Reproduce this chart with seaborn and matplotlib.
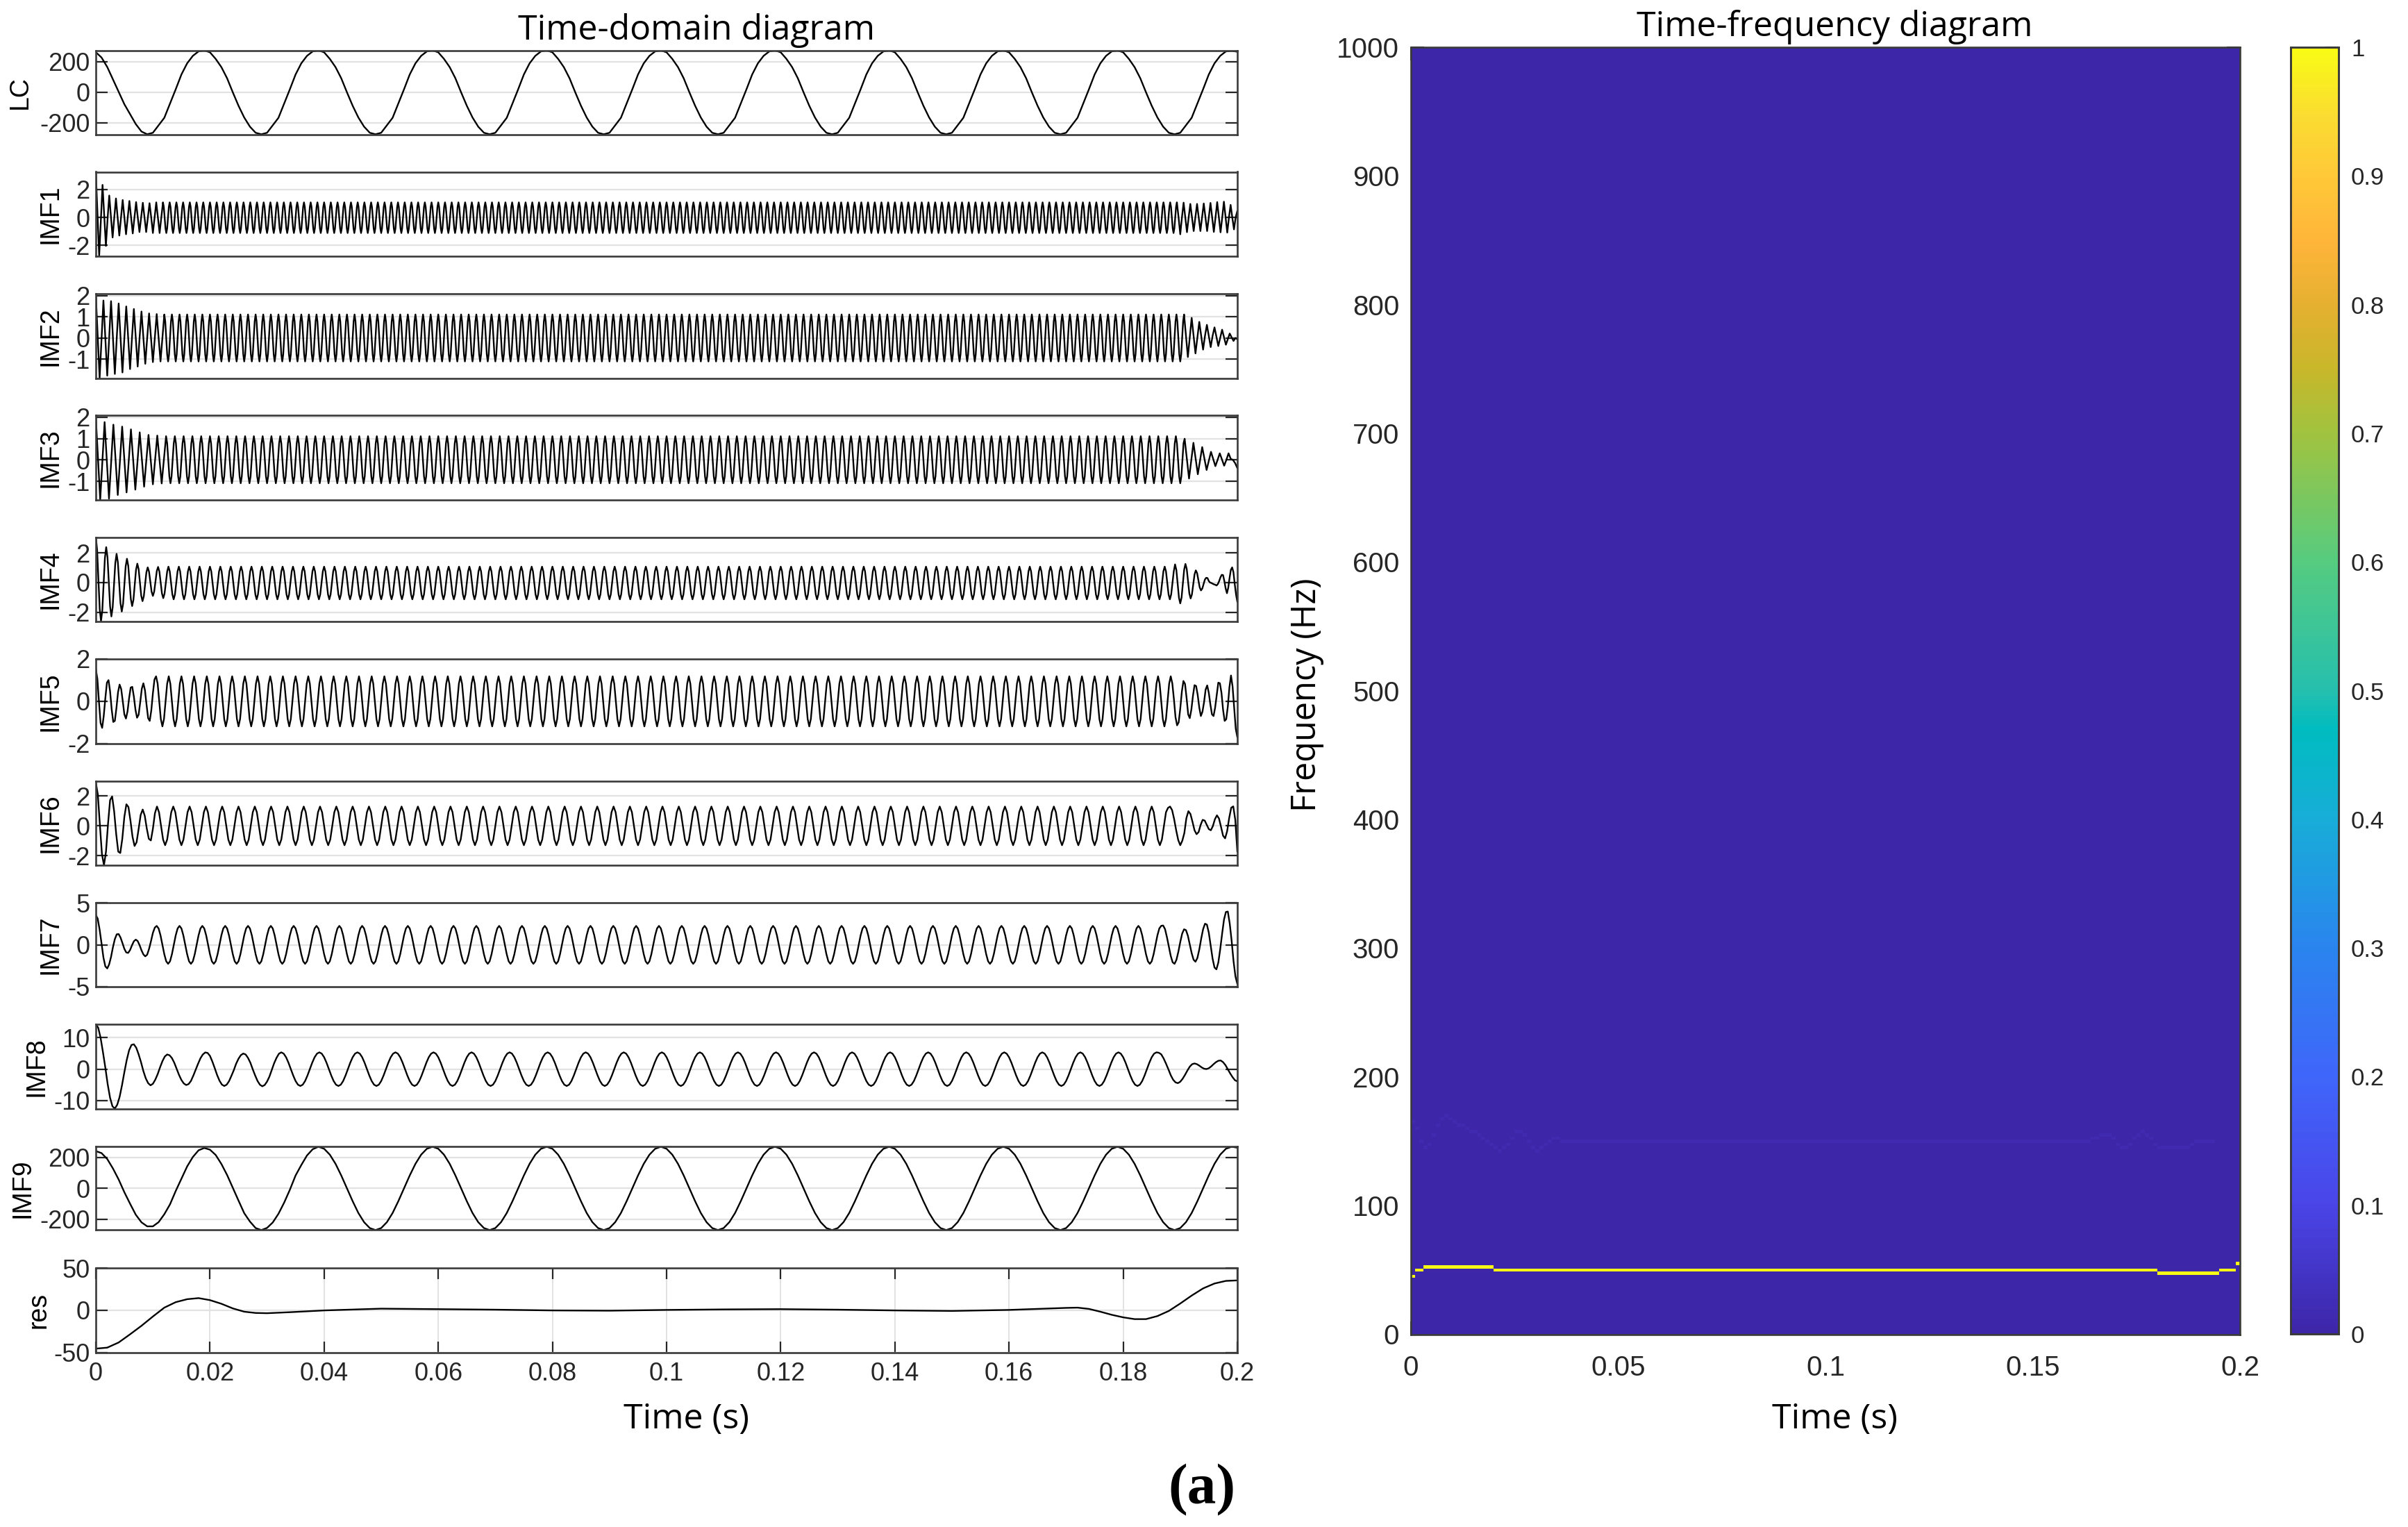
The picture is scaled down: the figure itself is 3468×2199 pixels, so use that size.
import matplotlib
matplotlib.use("Agg")
import matplotlib.pyplot as plt
from matplotlib.colors import LinearSegmentedColormap
import numpy as np
import seaborn as sns

W, H = 3468, 2199

# Values. Steady stretches repeat one cycle as read there,
# the start and end of each component are typed sample by sample.
lc_head = [263, 228, 166, 85, 3, -78, -143, -208, -257, -275, -265, -216, -167, -73, 20, 117, 190, 239, 268]
lc_cycle = [275, 262, 219, 165, 92, 0, -88, -165, -225, -265, -275, -265, -216, -167, -73, 20, 117, 190, 239, 268]
lc_tail = [272, 266]

imf1_head = [3.26, .2, -2.75, -.2, 2.33, .15, -2.03, -.1, 1.57, .05, -1.43, 0, 1.36, 0, -1.29, 0, 1.25, 0, -1.2, 0,
             1.18, 0, -1.14, 0, 1.1, 0, -1.04, 0, 1.05, 0, -1.04, 0, 1.02, 0, -1.11, 0, 1.08, 0, -1.11, 0]
imf1_cycle = [1.08, .76, 0, -.78, -1.11, -.78, 0, .76]
imf1_tail = [1.08, 0, -1.2, 0, 1.06, 0, -1.05, 0, .97, 0, -.97, 0, .97, 0, -.97, 0, 1.0, 0, -.97, 0,
             1.04, 0, -1.03, 0, 1.1, 0, -1.06, 0, 1.13, 0, -1.08, 0, .9, 0, -.85, 0, .47]

imf2_head = [2.05, .08, -1.9, -.07, 1.77, 0, -1.78, 0, 1.74, 0, -1.7, 0, 1.63, 0, -1.63, 0, 1.49, 0, -1.47, 0,
             1.37, 0, -1.35, 0, 1.25, 0, -1.22, 0, 1.16, 0, -1.14, 0, 1.13, 0, -1.11, 0]
imf2_cycle = [1.11, .78, 0, -.78, -1.11, -.78, 0, .78]
imf2_tail = [1.11, .1, -.9, .03, .95, .11, -.73, .02, .76, .1, -.55, .1, .62, .1, -.43, .1,
             .5, .06, -.38, 0, .39, .03, -.32, -.05, .21, .03, -.14, 0, -.06]

imf3_head = [2.0, .07, -1.86, -.04, 1.77, -.02, -1.81, -.08, 1.65, 0, -1.64, -.04, 1.56, .02, -1.52, -.04,
             1.43, .02, -1.39, -.05, 1.29, .02, -1.25, -.04, 1.17, .02, -1.14, 0, 1.14, .02, -1.1, 0]
imf3_cycle = [1.11, .78, 0, -.77, -1.09, -.77, 0, .78]
imf3_tail = [.99, .05, -.87, -.04, .8, .06, -.67, -.03, .6, .06, -.47, -.05, .38, .04, -.29, 0,
             .31, .02, -.27, 0, .31, .05, 0, -.15, -.38]

imf4_head = [3.05, 2.22, .22, -1.78, -2.6, -1.87, -.11, 1.65,
             2.38, 1.7, .05, -1.6, -2.28, -1.66, -.18, 1.3,
             1.93, 1.36, -.01, -1.38, -1.95, -1.44, -.18, 1.08,
             1.6, 1.13, .01, -1.11, -1.58, -1.16, -.15, .86,
             1.27, .9, .01, -.88, -1.25, -.92, -.12, .69,
             1.02, .74, .06, -.62, -.9, -.61, .08, .77,
             1.05, .74, 0, -.74, -1.05, -.74, 0, .74]
imf4_cycle = [1.07, .75, -.03, -.8, -1.13, -.8, -.03, .75]
imf4_tail = [1.22, .84, -.09, -1.02, -1.4, -1.02, -.08, .86,
             1.25, .91, .09, -.73, -1.07, -.8, -.13, .54,
             .82, .63, .15, -.33, -.53, -.4, -.1, .2,
             .32, .3, .1, 0, -.03, -.08, -.12, -.15,
             -.2, -.1, .1, .35, .52, .5, .1, -.4,
             -.72, -.35, .3, .85, 1.02, .7, -.1, -.8, -1.3]

imf5_head = [1.53, 1.05, -.04, -1.03, -1.26, -.69, .14, .88, 1.0, .47, -.38, -.98, -.93, -.32, .42, .79,
             .58, 0, -.62, -.82, -.48, .15, .65, .68, .22, -.4, -.78, -.64, -.05, .59, .85, .52,
             -.17, -.8, -.93, -.43, .38, 1.03]
imf5_cycle = [1.18, .83, 0, -.84, -1.19, -.84, 0, .83]
imf5_tail = [1.18, .84, .1, -.75, -1.14, -1.0, -.35, .45, .96, .82, .15, -.62, -.8, -.4, .25, .76,
             .72, .3, -.3, -.7, -.5, -.05, .55, .75, .4, -.15, -.62, -.7, -.3, .3, .88, .85,
             .4, -.4, -.93, -.85, -.25, .65, 1.22, .7, -.3, -1.3, -1.7]

imf6_head = [2.9, 2.09, .05, -1.89, -2.64, -1.72, .15, 1.72, 1.97, .96, -.56, -1.73, -1.82, -.86, .6, 1.44,
             1.26, .34, -.73, -1.35, -1.1, -.21, .73, 1.09, .68, -.18, -.87, -.98, -.2, .84]
imf6_cycle = [1.29, .91, 0, -.92, -1.3, -.92, 0, .91]
imf6_tail = [1.2, 1.29, 1.05, .45, -.3, -.95, -1.3, -1.0, -.49, .51, .98, .79, .27, -.3, -.56, -.42, .06, .4,
             .35, .07, -.22, -.3, -.02, .44, .7, .49, -.07, -.66, -.84, -.36, .52, 1.21, 1.3, .4, -1.74]

imf7_head = [3.54, 3.1, 1.79, .17, -1.52, -2.57, -2.82, -2.34, -1.45, -.29, .67, 1.24, 1.27, .85, .2, -.49,
             -.92, -.97, -.63, -.07, .41, .61, .44, -.05, -.66, -1.15, -1.38, -1.18, -.48, .43, 1.41, 2.04]
imf7_cycle = [2.24, 1.94, 1.12, 0, -1.13, -1.97, -2.27, -1.97, -1.13, 0, 1.12, 1.94]
imf7_tail = [2.25, 2.29, 1.86, .9, -.2, -1.33, -2.09, -2.27, -1.79, -.84, .32, 1.32, 1.84, 1.74, 1.08, .05,
             -1.0, -1.78, -2.02, -1.58, -.57, .71, 1.84, 2.5, 2.4, 1.44, -.1, -1.66, -2.71, -2.93, -2.13, -.54,
             1.3, 3.0, 3.9, 3.95, 2.53, .49, -1.94, -3.76, -4.67]

imf8_head = [14.3, 13.2, 10, 5.4, .45, -4.9, -9.2, -11.9, -12.6, -11.4, -8.9, -5.2, -1.0, 2.9, 6, 7.7,
             7.9, 6.8, 4.7, 2.2, -.66, -2.96, -4.5, -5.19, -4.7, -3.4, -1.64, .53, 2.5, 4, 4.65,
             4.4, 3.5, 2, .08, -1.9, -3.5, -4.6, -5.1, -4.8, -3.8, -2.1, -.2, 1.7, 3.45, 4.65, 5.3,
             5.15, 4.2, 2.4, .3, -1.9, -3.7, -4.95, -5.4, -5, -3.9, -2.2, -.4, 1.7, 3.3, 4.45, 4.95,
             4.65, 3.55, 2, -.1, -2.05, -3.8, -5, -5.5, -5.1, -4, -2.4, -.25, 1.9, 3.6, 4.9]
imf8_cycle = [5.33, 4.92, 3.77, 2.04, 0, -2.06, -3.82, -4.99, -5.4, -4.99, -3.82, -2.06, 0, 2.04, 3.77, 4.92]
imf8_tail = [5.33, 5.2, 4.7, 3.4, 1.75, -.06, -1.96, -3.4, -4.25, -4.5, -4.05, -3.1, -1.86, -.48, .77, 1.55,
             1.78, 1.56, 1.09, .53, .12, 0, .26, .83, 1.55, 2.2, 2.64, 2.74, 2.2, 1.26, -.07, -1.4, -2.6, -3.56, -3.93]

imf9_head = [240, 227, 189, 128, 57, -25, -99, -170, -219, -245, -245, -218, -167, -103, -17, 62, 141, 202, 245,
             260, 249, 215, 157, 86, 3, -79, -160, -214, -256, -269, -255, -220, -164, -92, -9, 83, 150, 212, 252]
imf9_cycle = [268, 255, 217, 158, 83, 0, -83, -159, -218, -256, -269, -256, -218, -159, -83, 0, 83, 158, 217, 255]
imf9_tail = [268, 262]

res_time = [0, .002, .004, .006, .008, .01, .012, .014, .016, .018, .02, .022, .024, .026, .028, .03, .034, .04,
            .05, .06, .07, .08, .09, .1, .11, .12, .13, .14, .15, .16, .17, .172, .174, .176, .178, .18, .182,
            .184, .186, .188, .19, .192, .194, .196, .198, .2]
res_values = [-45.6, -44.4, -38.3, -28.6, -18.5, -7.5, 3, 9.5, 13, 14.3, 11.9, 7.6, 2.1, -1.8, -3.3, -3.6, -2.4, -.3,
              1.8, 1.2, .6, -.3, -.6, .3, .9, 1.2, .6, -.3, -.9, .3, 2.7, 3, 1.5, -1.8, -5.5, -8.5, -10.6,
              -10.6, -7, -.9, 7.9, 17.3, 25.8, 31.6, 34.7, 35.3]

# (head, cycle, number of steady cycles, tail, samples per cycle in head and tail, cycles in the whole record)
lc_parts = (lc_head, lc_cycle, 9, lc_tail, 20, 10)
imf_parts = [
    (imf1_head, imf1_cycle, 151, imf1_tail, 4, 170),
    (imf2_head, imf2_cycle, 134, imf2_tail, 4, 150),
    (imf3_head, imf3_cycle, 116, imf3_tail, 4, 130),
    (imf4_head, imf4_cycle, 97, imf4_tail, 8, 110),
    (imf5_head, imf5_cycle, 80, imf5_tail, 8, 90),
    (imf6_head, imf6_cycle, 62, imf6_tail, 8, 70),
    (imf7_head, imf7_cycle, 44, imf7_tail, 12, 50),
    (imf8_head, imf8_cycle, 23, imf8_tail, 16, 30),
    (imf9_head, imf9_cycle, 8, imf9_tail, 20, 10),
]

panel_names = ["LC", "IMF1", "IMF2", "IMF3", "IMF4", "IMF5", "IMF6", "IMF7", "IMF8", "IMF9", "res"]
panel_ylims = [(-276, 275), (-2.75, 3.26), (-1.9, 2.09), (-1.86, 2.09), (-2.62, 3.05), (-2, 2),
               (-2.64, 3.0), (-5, 5), (-12.74, 14.3), (-269, 268), (-50, 50)]
panel_yticks = [[-200, 0, 200], [-2, 0, 2], [-1, 0, 1, 2], [-1, 0, 1, 2], [-2, 0, 2], [-2, 0, 2],
                [-2, 0, 2], [-5, 0, 5], [-10, 0, 10], [-200, 0, 200], [-50, 0, 50]]
time_ticks = [0, .02, .04, .06, .08, .1, .12, .14, .16, .18, .2]
time_tick_labels = ["0", "0.02", "0.04", "0.06", "0.08", "0.1", "0.12", "0.14", "0.16", "0.18", "0.2"]

# time-frequency ridge, one value per millisecond
ridge_freq = [45] + [50] * 2 + [52.5] * 17 + [50] * 160 + [47.5] * 15 + [50] * 4 + [55]
ghost_freq = [165, 160, 150, 145, 148, 155, 162, 168, 170, 168, 165, 163, 162, 160, 158, 157, 155, 153, 150, 147,
              145, 143, 145, 148, 153, 157, 158, 155, 150, 146, 143, 145, 148, 151, 153, 153] + [150] * 127 + \
             [150, 152, 153, 155, 156, 155, 152, 148, 145, 146, 148, 152, 155, 157, 155, 152, 148, 145, 145, 145,
              145, 145, 145, 145, 146, 148, 150, 150, 150, 150, 150]
ridge_level = 1.0
ghost_level = 0.012
freq_step = 2.5
freq_ticks = [0, 100, 200, 300, 400, 500, 600, 700, 800, 900, 1000]
tf_time_ticks = [0, .05, .1, .15, .2]
tf_time_labels = ["0", "0.05", "0.1", "0.15", "0.2"]
cbar_ticks = [0, .1, .2, .3, .4, .5, .6, .7, .8, .9, 1]
cbar_labels = ["0", "0.1", "0.2", "0.3", "0.4", "0.5", "0.6", "0.7", "0.8", "0.9", "1"]

parula_stops = [(0, "#3D26A8"), (.1, "#4A45E8"), (.2, "#3F66FA"), (.3, "#2A85EE"), (.4, "#18ADD8"), (.47, "#00BCC0"),
                (.5, "#25BFAE"), (.6, "#55CC80"), (.7, "#A0C340"), (.75, "#C8B72A"), (.8, "#E5B030"), (.85, "#FFB53A"),
                (.9, "#FFC838"), (.95, "#FADD30"), (1, "#F9FB15")]

sns.set_theme(style="white")
plt.rcParams["font.family"] = ["Liberation Sans", "DejaVu Sans"]
plt.rcParams["axes.unicode_minus"] = False

INK = "#262626"
FRAME = "#3a3a3a"
GRID = "#e2e2e2"

fig = plt.figure(figsize=(W / 100, H / 100), dpi=100, facecolor="white")


def place(left, top, right, bottom):
    return fig.add_axes([left / W, 1 - bottom / H, (right - left) / W, (bottom - top) / H])


def put_text(x, y, text, **kw):
    fig.text(x / W, 1 - y / H, text, color="black", **kw)


def build(parts):
    # the steady part may hold more samples per cycle than head and tail
    head, cycle, count, tail, spc, total = parts
    period = 0.2 / total
    t_head = np.arange(len(head)) * period / spc
    t_mid = len(head) * period / spc + np.arange(len(cycle) * count) * period / len(cycle)
    t_tail = len(head) * period / spc + count * period + np.arange(len(tail)) * period / spc
    y = np.array(list(head) + list(cycle) * count + list(tail), dtype=float)
    return np.concatenate([t_head, t_mid, t_tail]), y


def style_frame(ax):
    for side in ax.spines:
        ax.spines[side].set_visible(True)
        ax.spines[side].set_color(FRAME)
        ax.spines[side].set_linewidth(1.9)


# left column
panel_boxes = [(72.5, 193.6), (247.5, 368.6), (423, 544.6), (598, 719.6), (773.6, 895), (949, 1070.7),
               (1124.7, 1246), (1300, 1421), (1475, 1597), (1651.4, 1771.4), (1826, 1947.5)]
label_x = [29, 73, 73, 73, 73, 73, 73, 73, 53, 33, 56]
AX_LEFT, AX_RIGHT = 138, 1782

series = [build(lc_parts)] + [build(p) for p in imf_parts] + [(np.array(res_time), np.array(res_values))]
for i, name in enumerate(panel_names):
    top, bottom = panel_boxes[i]
    ax = place(AX_LEFT, top, AX_RIGHT, bottom)
    t, y = series[i]
    sns.lineplot(x=t, y=y, ax=ax, color="black", linewidth=1.7, estimator=None, sort=False, legend=False)
    ax.set_xlim(0, 0.2)
    ax.set_ylim(*panel_ylims[i])
    ax.set_yticks(panel_yticks[i])
    ax.set_yticklabels([str(v) for v in panel_yticks[i]])
    ax.set_axisbelow(True)
    ax.grid(True, axis="y", color=GRID, linewidth=1.6)
    style_frame(ax)
    if name == "res":
        ax.set_xticks(time_ticks)
        ax.set_xticklabels(time_tick_labels)
        ax.grid(True, axis="x", color=GRID, linewidth=1.4)
        ax.set_xlabel("")
    else:
        ax.set_xticks([])
    ax.tick_params(axis="y", direction="in", left=True, right=True, length=12, width=1.6, color=INK,
                   labelsize=26, labelcolor=INK, pad=6)
    ax.tick_params(axis="x", direction="in", bottom=True, top=True, length=11.5, width=1.6, color=INK,
                   labelsize=26, labelcolor=INK, pad=10)
    ax.set_ylabel("")
    put_text(label_x[i], (top + bottom) / 2, name, fontsize=27, rotation=90, ha="center", va="center",
             family=["Liberation Sans", "DejaVu Sans"])

# right column: heat map of the time-frequency plane
n_rows = int(1000 / freq_step) + 1
tf_matrix = np.zeros((n_rows, len(ridge_freq)))
for col, f in enumerate(ghost_freq):
    tf_matrix[int(round(f / freq_step)), col] = ghost_level
for col, f in enumerate(ridge_freq):
    tf_matrix[int(round(f / freq_step)), col] = ridge_level

parula = LinearSegmentedColormap.from_list("parula_like", parula_stops, N=256)
tf_ax = place(2032, 68, 3226, 1921.5)
cbar_ax = place(3299, 68, 3368, 1921)
sns.heatmap(tf_matrix, ax=tf_ax, cbar_ax=cbar_ax, cmap=parula, vmin=0, vmax=1, xticklabels=False, yticklabels=False,
            cbar_kws={"ticks": cbar_ticks})
tf_ax.set_ylim(0.5, n_rows - 0.5)
tf_ax.set_xlim(0, len(ridge_freq))
tf_ax.set_xticks([v * 1000 for v in tf_time_ticks])
tf_ax.set_xticklabels(tf_time_labels, rotation=0)
tf_ax.set_yticks([f / freq_step + 0.5 for f in freq_ticks])
tf_ax.set_yticklabels([str(f) for f in freq_ticks], rotation=0)
tf_ax.tick_params(axis="both", direction="in", left=True, right=True, bottom=True, top=True, length=14, width=1.5,
                  color=INK, labelsize=29, labelcolor=INK, pad=12)
tf_ax.tick_params(axis="x", pad=21)
style_frame(tf_ax)

cbar_ax.set_yticklabels(cbar_labels)
cbar_ax.tick_params(axis="y", direction="in", left=False, right=True, length=14, width=1.5, color=INK,
                    labelsize=25, labelcolor=INK, pad=13)
for side in cbar_ax.spines:
    cbar_ax.spines[side].set_visible(True)
    cbar_ax.spines[side].set_color(FRAME)
    cbar_ax.spines[side].set_linewidth(1.9)

# titles and axis labels
sans = ["Open Sans", "DejaVu Sans"]
put_text(1003, 57, "Time-domain diagram", fontsize=36, ha="center", va="baseline", family=sans)
put_text(2642, 52, "Time-frequency diagram", fontsize=36, ha="center", va="baseline", family=sans)
put_text(988, 2057, "Time (s)", fontsize=36, ha="center", va="baseline", family=sans)
put_text(2642, 2057, "Time (s)", fontsize=36, ha="center", va="baseline", family=sans)
put_text(1882, 1001, "Frequency (Hz)", fontsize=35, rotation=90, ha="center", va="center", family=sans)
put_text(1731, 2165, "(a)", fontsize=60, fontweight="bold", ha="center", va="baseline",
         family=["Liberation Serif", "DejaVu Serif"])

print([len(s[1]) for s in series])
fig.savefig("out.png", dpi=100, facecolor="white")
